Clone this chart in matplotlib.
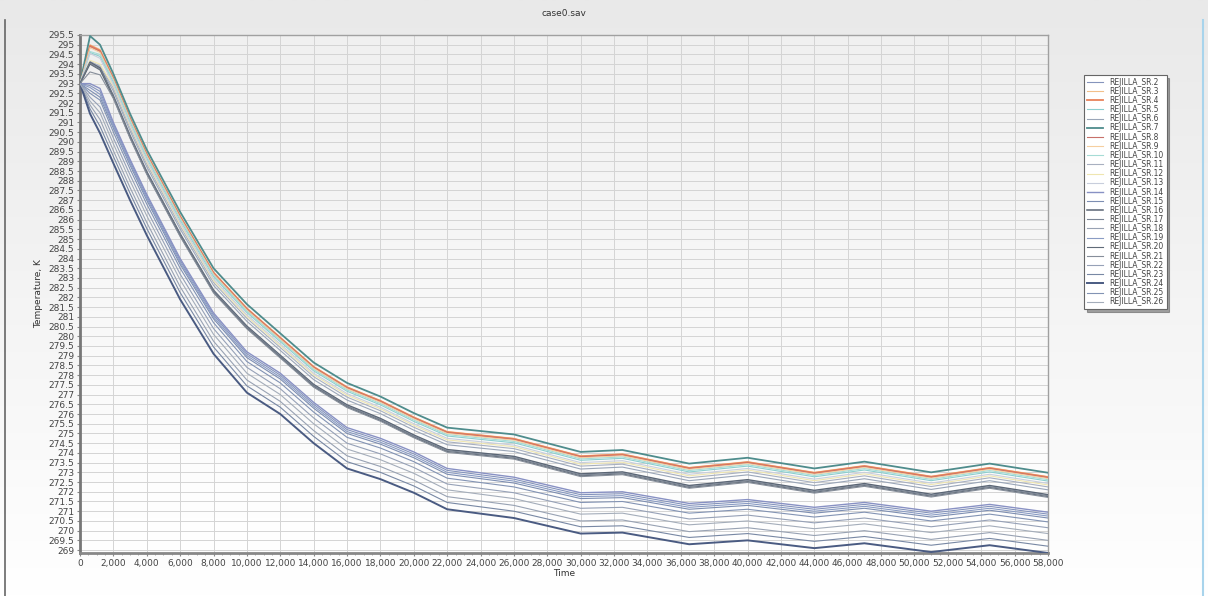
import matplotlib
matplotlib.use("Agg")
import matplotlib.pyplot as plt
import numpy as np
from matplotlib.ticker import MultipleLocator, FuncFormatter

time = [0, 600, 1200, 2000, 3000, 4000, 6000, 8000, 10000, 12000, 14000, 16000, 18000,
        20000, 22000, 26000, 30000, 32500, 36500, 40000, 44000, 47000, 51000, 54500, 58000]

# temperatures, K
sr2 = [293.0, 292.9, 292.6, 290.9, 289.0, 287.2, 283.9, 281.1, 279.1, 278.0, 276.5, 275.2, 274.65, 273.95, 273.1, 272.65, 271.85, 271.9, 271.3, 271.5, 271.1, 271.35, 270.9, 271.25, 270.85]
sr3 = [293.0, 295.0, 294.75, 293.3, 291.25, 289.4, 286.2, 283.3, 281.45, 279.95, 278.45, 277.4, 276.7, 275.85, 275.1, 274.75, 273.85, 273.95, 273.25, 273.55, 273.0, 273.35, 272.8, 273.25, 272.78]
sr4 = [293.0, 294.95, 294.7, 293.27, 291.22, 289.37, 286.17, 283.27, 281.42, 279.92, 278.42, 277.37, 276.67, 275.82, 275.07, 274.72, 273.82, 273.92, 273.22, 273.52, 272.97, 273.32, 272.77, 273.22, 272.75]
sr5 = [293.0, 294.6, 294.4, 293.07, 291.02, 289.17, 285.97, 283.07, 281.22, 279.72, 278.22, 277.17, 276.47, 275.62, 274.87, 274.52, 273.62, 273.72, 273.02, 273.32, 272.77, 273.12, 272.57, 273.02, 272.55]
sr6 = [293.0, 294.1, 293.85, 292.62, 290.57, 288.72, 285.52, 282.62, 280.77, 279.27, 277.77, 276.72, 276.02, 275.17, 274.42, 274.07, 273.17, 273.27, 272.57, 272.87, 272.32, 272.67, 272.12, 272.57, 272.1]
sr7 = [293.0, 295.45, 295.0, 293.5, 291.45, 289.6, 286.4, 283.5, 281.65, 280.15, 278.65, 277.6, 276.9, 276.05, 275.3, 274.95, 274.05, 274.15, 273.45, 273.75, 273.2, 273.55, 273.0, 273.45, 272.98]
sr8 = [293.0, 294.9, 294.65, 293.24, 291.19, 289.34, 286.14, 283.24, 281.39, 279.89, 278.39, 277.34, 276.64, 275.79, 275.04, 274.69, 273.79, 273.89, 273.19, 273.49, 272.94, 273.29, 272.74, 273.19, 272.72]
sr9 = [293.0, 294.85, 294.6, 293.2, 291.15, 289.3, 286.1, 283.2, 281.35, 279.85, 278.35, 277.3, 276.6, 275.75, 275.0, 274.65, 273.75, 273.85, 273.15, 273.45, 272.9, 273.25, 272.7, 273.15, 272.68]
sr10 = [293.0, 294.65, 294.5, 293.14, 291.09, 289.24, 286.04, 283.14, 281.29, 279.79, 278.29, 277.24, 276.54, 275.69, 274.94, 274.59, 273.69, 273.79, 273.09, 273.39, 272.84, 273.19, 272.64, 273.09, 272.62]
sr11 = [293.0, 294.15, 293.9, 292.77, 290.72, 288.87, 285.67, 282.77, 280.92, 279.42, 277.92, 276.87, 276.17, 275.32, 274.57, 274.22, 273.32, 273.42, 272.72, 273.02, 272.47, 272.82, 272.27, 272.72, 272.25]
sr12 = [293.0, 294.2, 294.0, 292.87, 290.82, 288.97, 285.77, 282.87, 281.02, 279.52, 278.02, 276.97, 276.27, 275.42, 274.67, 274.32, 273.42, 273.52, 272.82, 273.12, 272.57, 272.92, 272.37, 272.82, 272.35]
sr13 = [293.0, 294.55, 294.3, 292.95, 290.9, 289.05, 285.85, 282.95, 281.1, 279.6, 278.1, 277.05, 276.35, 275.5, 274.75, 274.4, 273.5, 273.6, 272.9, 273.2, 272.65, 273.0, 272.45, 272.9, 272.43]
sr14 = [293.0, 293.0, 292.75, 291.0, 289.1, 287.3, 284.0, 281.2, 279.2, 278.1, 276.6, 275.3, 274.75, 274.05, 273.2, 272.75, 271.95, 272.0, 271.4, 271.6, 271.2, 271.45, 271.0, 271.35, 270.95]
sr15 = [293.0, 292.65, 292.3, 290.7, 288.8, 287.0, 283.7, 280.9, 278.9, 277.8, 276.3, 275.0, 274.45, 273.75, 272.9, 272.45, 271.65, 271.7, 271.1, 271.3, 270.9, 271.15, 270.7, 271.05, 270.65]
sr16 = [293.0, 294.1, 293.8, 292.37, 290.32, 288.47, 285.27, 282.37, 280.52, 279.02, 277.52, 276.47, 275.77, 274.92, 274.17, 273.82, 272.92, 273.02, 272.32, 272.62, 272.07, 272.42, 271.87, 272.32, 271.85]
sr17 = [293.0, 294.05, 293.75, 292.32, 290.27, 288.42, 285.22, 282.32, 280.47, 278.97, 277.47, 276.42, 275.72, 274.87, 274.12, 273.77, 272.87, 272.97, 272.27, 272.57, 272.02, 272.37, 271.82, 272.27, 271.8]
sr18 = [293.0, 291.9, 291.15, 289.55, 287.65, 285.85, 282.55, 279.75, 277.75, 276.65, 275.15, 273.85, 273.3, 272.6, 271.75, 271.3, 270.5, 270.55, 269.95, 270.15, 269.75, 270.0, 269.55, 269.9, 269.5]
sr19 = [293.0, 292.8, 292.45, 290.8, 288.9, 287.1, 283.8, 281.0, 279.0, 277.9, 276.4, 275.1, 274.55, 273.85, 273.0, 272.55, 271.75, 271.8, 271.2, 271.4, 271.0, 271.25, 270.8, 271.15, 270.75]
sr20 = [293.0, 294.0, 293.7, 292.27, 290.22, 288.37, 285.17, 282.27, 280.42, 278.92, 277.42, 276.37, 275.67, 274.82, 274.07, 273.72, 272.82, 272.92, 272.22, 272.52, 271.97, 272.32, 271.77, 272.22, 271.75]
sr21 = [293.0, 293.6, 293.45, 292.23, 290.18, 288.33, 285.13, 282.23, 280.38, 278.88, 277.38, 276.33, 275.63, 274.78, 274.03, 273.68, 272.78, 272.88, 272.18, 272.48, 271.93, 272.28, 271.73, 272.18, 271.71]
sr22 = [293.0, 292.3, 291.8, 290.2, 288.3, 286.5, 283.2, 280.4, 278.4, 277.3, 275.8, 274.5, 273.95, 273.25, 272.4, 271.95, 271.15, 271.2, 270.6, 270.8, 270.4, 270.65, 270.2, 270.55, 270.15]
sr23 = [293.0, 291.7, 290.8, 289.25, 287.35, 285.55, 282.25, 279.45, 277.45, 276.35, 274.85, 273.55, 273.0, 272.3, 271.45, 271.0, 270.2, 270.25, 269.65, 269.85, 269.45, 269.7, 269.25, 269.6, 269.2]
sr24 = [293.0, 291.45, 290.45, 288.9, 287.0, 285.2, 281.9, 279.1, 277.1, 276.0, 274.5, 273.2, 272.65, 271.95, 271.1, 270.65, 269.85, 269.9, 269.3, 269.5, 269.1, 269.35, 268.9, 269.25, 268.85]
sr25 = [293.0, 292.5, 292.15, 290.5, 288.6, 286.8, 283.5, 280.7, 278.7, 277.6, 276.1, 274.8, 274.25, 273.55, 272.7, 272.25, 271.45, 271.5, 270.9, 271.1, 270.7, 270.95, 270.5, 270.85, 270.45]
sr26 = [293.0, 292.1, 291.5, 289.9, 288.0, 286.2, 282.9, 280.1, 278.1, 277.0, 275.5, 274.2, 273.65, 272.95, 272.1, 271.65, 270.85, 270.9, 270.3, 270.5, 270.1, 270.35, 269.9, 270.25, 269.85]

names = ["REJILLA_SR.%d" % i for i in range(2, 27)]
series = [sr2, sr3, sr4, sr5, sr6, sr7, sr8, sr9, sr10, sr11, sr12, sr13, sr14,
          sr15, sr16, sr17, sr18, sr19, sr20, sr21, sr22, sr23, sr24, sr25, sr26]
colors = ['#8594bc', '#f2c08a', '#e8825a', '#8ccfcf', '#9aa6b8', '#4e8c8c', '#c8706a',
          '#f6cfa0', '#a6dcd6', '#a8b0c0', '#efe6b0', '#c8cedc', '#8891c4', '#7d8eb2',
          '#5a6574', '#7c8696', '#98a2b3', '#8a9cc4', '#606b78', '#868e9a', '#96a1b7',
          '#7888a4', '#4a5b82', '#8293b4', '#a4adba']
widths = {'REJILLA_SR.7': 1.3, 'REJILLA_SR.4': 1.3, 'REJILLA_SR.24': 1.4,
          'REJILLA_SR.16': 1.1, 'REJILLA_SR.14': 1.0}

fig = plt.figure(figsize=(12.08, 5.96), dpi=100)

# window background: light gray fading to white
bg = fig.add_axes([0, 0, 1, 1], zorder=-10)
bg.imshow(np.linspace(0, 1, 256).reshape(-1, 1), cmap=matplotlib.colors.LinearSegmentedColormap.from_list(
    'bg', ['#e9e9e9', '#ffffff']), aspect='auto', extent=[0, 1, 0, 1], origin='upper')
bg.set_xlim(0, 1)
bg.set_ylim(0, 1)
bg.axis('off')
bg.plot([5 / 1208, 5 / 1208], [0, 1 - 20 / 596], color='#666666', lw=1.2)
bg.plot([1203 / 1208, 1203 / 1208], [0, 1 - 20 / 596], color='#a8d4ec', lw=1.5)

ax = fig.add_axes([80 / 1208, 1 - 553 / 596, 968 / 1208, 518 / 596])
ax.imshow(np.linspace(0, 1, 256).reshape(-1, 1), cmap=matplotlib.colors.LinearSegmentedColormap.from_list(
    'pl', ['#f0f0f0', '#ffffff']), aspect='auto', extent=[0, 58000, 268.85, 295.5],
    origin='upper', zorder=0)

for name, vals, c in zip(names, series, colors):
    ax.plot(time, vals, color=c, lw=widths.get(name, 0.8), label=name, zorder=3)

ax.set_xlim(0, 58000)
ax.set_ylim(268.85, 295.5)
ax.xaxis.set_major_locator(MultipleLocator(2000))
ax.xaxis.set_minor_locator(MultipleLocator(500))
ax.yaxis.set_major_locator(MultipleLocator(0.5))
ax.xaxis.set_major_formatter(FuncFormatter(lambda v, p: "{:,.0f}".format(v)))
ax.yaxis.set_major_formatter(FuncFormatter(lambda v, p: ("%.1f" % v).rstrip('0').rstrip('.')))
ax.grid(True, which='major', color='#d4d4d4', lw=0.7, zorder=1)
ax.set_axisbelow(True)
ax.tick_params(axis='both', which='major', labelsize=6.5, labelcolor='#444444',
               length=2, color='#888888', pad=2)
ax.tick_params(axis='x', which='minor', length=1.5, color='#999999')

for side in ['top', 'right']:
    ax.spines[side].set_color('#a0a0a0')
    ax.spines[side].set_linewidth(1.0)
ax.spines['left'].set_color('#777777')
ax.spines['left'].set_linewidth(2.0)
ax.spines['bottom'].set_color('#888888')
ax.spines['bottom'].set_linewidth(2.0)

ax.set_title("case0.sav", fontsize=6.5, color='#333333', pad=14)
ax.set_xlabel("Time", fontsize=6.5, color='#333333', labelpad=1)
ax.set_ylabel("Temperature, K", fontsize=6.5, color='#333333', labelpad=4)

leg = fig.legend(loc='upper left', bbox_to_anchor=(1084 / 1208, 1 - 75 / 596), fontsize=5.5,
                 frameon=True, fancybox=False, shadow=True, edgecolor='#666666',
                 handlelength=2.2, labelspacing=0.02, borderpad=0.35, handletextpad=0.8,
                 borderaxespad=0)
leg.get_frame().set_linewidth(0.8)
for t in leg.get_texts():
    t.set_color('#444444')

plt.savefig('out.png', dpi=100)
